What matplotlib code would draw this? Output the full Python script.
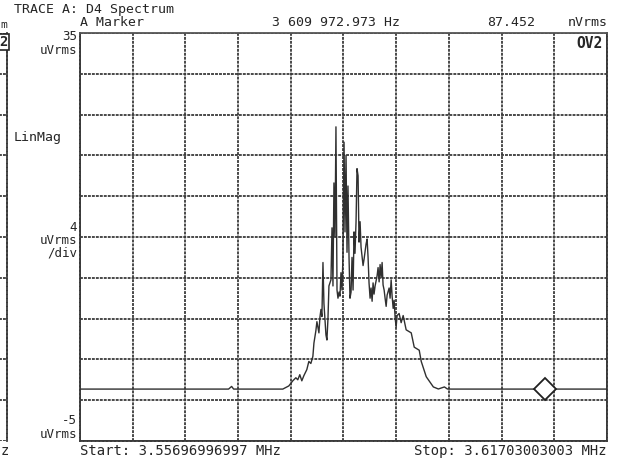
import matplotlib
matplotlib.use("Agg")
import matplotlib.pyplot as plt

# ---------------- datos de la traza ----------------
f_start = 3.55696996997   # MHz
f_stop = 3.61703003003    # MHz
y_top = 35.0              # uVrms
y_bottom = -5.0           # uVrms

freq_mhz = [3.55697, 3.57390, 3.57425, 3.57448, 3.58008, 3.58077, 3.58122, 3.58157,
            3.58179, 3.58202, 3.58225, 3.58248, 3.58282, 3.58305, 3.58328, 3.58351,
            3.58363, 3.58385, 3.58397, 3.58420, 3.58431, 3.58443, 3.58454, 3.58466,
            3.58477, 3.58500, 3.58511, 3.58523, 3.58534, 3.58557, 3.58569, 3.58580,
            3.58591, 3.58603, 3.58614, 3.58626, 3.58637, 3.58649, 3.58660, 3.58671,
            3.58683, 3.58694, 3.58706, 3.58717, 3.58729, 3.58740, 3.58751, 3.58763,
            3.58774, 3.58786, 3.58797, 3.58809, 3.58820, 3.58831, 3.58843, 3.58854,
            3.58866, 3.58877, 3.58889, 3.58900, 3.58923, 3.58934, 3.58957, 3.58969,
            3.58980, 3.58991, 3.59003, 3.59014, 3.59026, 3.59037, 3.59048, 3.59060,
            3.59083, 3.59094, 3.59106, 3.59117, 3.59129, 3.59140, 3.59151, 3.59163,
            3.59174, 3.59186, 3.59197, 3.59220, 3.59231, 3.59243, 3.59254, 3.59266,
            3.59277, 3.59289, 3.59300, 3.59311, 3.59334, 3.59357, 3.59380, 3.59414,
            3.59472, 3.59506, 3.59563, 3.59586, 3.59643, 3.59724, 3.59781, 3.59850,
            3.59884, 3.59930, 3.61703]
level_uv = [0.09, 0.09, 0.35, 0.09, 0.09, 0.4, 0.9, 1.2,
            1.0, 1.5, 0.9, 1.4, 2.0, 2.8, 2.6, 3.3,
            4.6, 5.8, 6.7, 5.6, 7.1, 7.9, 7.2, 12.5,
            8.5, 5.4, 4.9, 7.0, 10.2, 10.8, 15.9, 10.2,
            20.3, 15.0, 25.8, 9.8, 9.0, 9.6, 9.2, 11.5,
            9.8, 13.2, 24.3, 15.5, 23.0, 13.5, 20.0, 13.0,
            9.0, 9.6, 13.0, 9.8, 15.5, 13.4, 16.5, 21.7,
            21.0, 14.5, 16.5, 14.0, 12.2, 12.8, 14.3, 14.8,
            13.0, 10.5, 9.0, 10.0, 8.7, 10.5, 9.4, 10.2,
            11.2, 12.0, 10.6, 12.3, 11.0, 12.5, 10.3, 9.8,
            9.0, 8.2, 9.3, 10.0, 9.0, 10.8, 9.2, 8.0,
            8.8, 7.0, 6.2, 7.3, 7.5, 6.6, 7.3, 5.9,
            5.6, 4.2, 3.9, 2.8, 1.3, 0.3, 0.1, 0.3,
            0.1, 0.09, 0.09]

marker_mhz = 3.609972973
marker_uv = 0.087452

# ---------------- figura ----------------
W, H = 619, 461
fig = plt.figure(figsize=(W / 100, H / 100), dpi=100)
fig.patch.set_facecolor("white")

ink = "#262626"
grid_col = "#3a3a3a"
dots = (0, (1.6, 0.6))
mono = "DejaVu Sans Mono"

ax = fig.add_axes([80 / W, 1 - 441 / H, 527 / W, 408 / H])
ax.set_xlim(f_start, f_stop)
ax.set_ylim(y_bottom, y_top)
span = f_stop - f_start
ax.set_xticks([f_start + span * i / 10 for i in range(11)])
ax.set_yticks([y_bottom + 4 * i for i in range(11)])
ax.tick_params(length=0, labelbottom=False, labelleft=False)
ax.grid(True, color=grid_col, linestyle=dots, linewidth=1.3)
for s in ax.spines.values():
    s.set_color(grid_col)
    s.set_linewidth(1.3)
    s.set_linestyle(dots)
ax.spines["top"].set_linestyle("-")
ax.spines["top"].set_color("#555555")

ax.plot(freq_mhz, level_uv, color="#303030", linewidth=1.0, zorder=3)
ax.plot([marker_mhz], [marker_uv], marker="D", markersize=11, markerfacecolor="white",
        markeredgecolor="#202020", markeredgewidth=1.3, zorder=4)

# resto de la pantalla vecina a la izquierda
ax2 = fig.add_axes([-0.05, 1 - 441 / H, 0.05 + 7 / W, 408 / H])
ax2.set_xlim(0, 1)
ax2.set_ylim(y_bottom, y_top)
ax2.set_xticks([])
ax2.set_yticks([y_bottom + 4 * i for i in range(11)])
ax2.tick_params(length=0, labelleft=False)
ax2.grid(True, axis="y", color=grid_col, linestyle=dots, linewidth=1.3)
for k in ["left", "top", "bottom"]:
    ax2.spines[k].set_visible(False)
ax2.spines["right"].set_color(grid_col)
ax2.spines["right"].set_linestyle(dots)
ax2.spines["right"].set_linewidth(1.3)


def txt(x, y, s, ha="left", size=9.5, **kw):
    fig.text(x / W, 1 - y / H, s, ha=ha, va="center", family=mono, fontsize=size,
             color=ink, **kw)


txt(14, 9, "TRACE A: D4 Spectrum")
txt(80, 22, "A Marker")
txt(272, 22, "3 609 972.973 Hz")
txt(487, 22, "87.452")
txt(608, 22, "nVrms", ha="right")
txt(77, 37, "35", ha="right", size=9)
txt(77, 50, "uVrms", ha="right", size=9)
txt(14, 138, "LinMag")
txt(77, 227, "4", ha="right", size=9)
txt(77, 240, "uVrms", ha="right", size=9)
txt(77, 253, "/div", ha="right", size=9)
txt(77, 420, "-5", ha="right", size=9)
txt(77, 434, "uVrms", ha="right", size=9)
txt(80, 451, "Start: 3.55696996997 MHz", size=10)
txt(607, 451, "Stop: 3.61703003003 MHz", ha="right", size=10)
txt(603, 43, "OV2", ha="right", size=10.5, weight="bold")
txt(0, 25, "m", size=8)
txt(-1, 42, "2", size=10, weight="bold",
    bbox=dict(boxstyle="square,pad=0.1", facecolor="white", edgecolor=ink, linewidth=1.2))
txt(1, 451, "z", size=10)

fig.savefig("out.png", dpi=100, facecolor="white")
